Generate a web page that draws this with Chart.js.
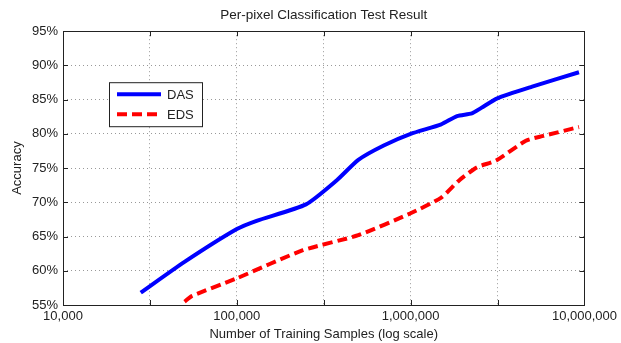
<!DOCTYPE html>
<html>
<head>
<meta charset="utf-8">
<script src="https://cdn.jsdelivr.net/npm/chart.js@4/dist/chart.umd.min.js"></script>
<style>
  html, body { margin: 0; padding: 0; background: #fff; }
  #wrap { width: 621px; height: 343px; }
</style>
</head>
<body>
<div id="wrap"><canvas id="myChart" width="621" height="343"></canvas></div>
<script>
// values
const dasX = [28000, 50000, 100000, 130000, 250000, 375000, 500000, 700000, 1000000, 1500000, 1850000, 2250000, 2550000, 3150000, 5000000, 9300000];
const dasY = [56.8, 61.3, 66.1, 67.3, 69.7, 73.2, 76.2, 78.3, 80.0, 81.4, 82.6, 83.0, 83.8, 85.2, 86.9, 89.0];

const edsX = [50000, 55000, 100000, 240000, 500000, 1000000, 1500000, 1900000, 2400000, 3100000, 4600000, 5800000, 9300000];
const edsY = [55.5, 56.3, 58.9, 63.0, 65.2, 68.4, 70.7, 73.2, 75.1, 76.1, 79.0, 79.7, 81.0];

const xTicks = [1e4, 31623, 1e5, 316228, 1e6, 3162278, 1e7];
const xLabels = ['10,000', '', '100,000', '', '1,000,000', '', '10,000,000'];
const yTicks = [55, 60, 65, 70, 75, 80, 85, 90, 95];

const ctx = document.getElementById("myChart").getContext("2d");
const fontFamily = "'Liberation Sans', Arial, sans-serif";

// box, inward tick marks and in-plot legend like the matlab figure
const matlabFrame = {
    id: 'matlabFrame',
    afterLayout(chart) {
        // title centred over the axes, not the whole canvas
        const t = chart.titleBlock;
        if (t) {
            t.left = chart.chartArea.left;
            t.right = chart.chartArea.right;
        }
    },
    afterDraw(chart) {
        const c = chart.ctx;
        const a = chart.chartArea;
        const xs = chart.scales.x, ys = chart.scales.y;
        c.save();
        c.strokeStyle = '#222';
        c.lineWidth = 1;
        c.beginPath();
        xs.ticks.forEach(t => {
            const px = Math.round(xs.getPixelForValue(t.value)) + 0.5;
            c.moveTo(px, a.bottom); c.lineTo(px, a.bottom - 5);
            c.moveTo(px, a.top); c.lineTo(px, a.top + 5);
        });
        ys.ticks.forEach(t => {
            const py = Math.round(ys.getPixelForValue(t.value)) + 0.5;
            c.moveTo(a.left, py); c.lineTo(a.left + 5, py);
            c.moveTo(a.right, py); c.lineTo(a.right - 5, py);
        });
        c.stroke();
        c.strokeRect(Math.round(a.left) + 0.5, Math.round(a.top) + 0.5,
            Math.round(a.right - a.left), Math.round(a.bottom - a.top));

        // legend
        const lx = a.left + 46, ly = a.top + 51, lw = 93, lh = 44;
        c.fillStyle = '#fff';
        c.fillRect(lx, ly, lw, lh);
        c.strokeStyle = '#222';
        c.strokeRect(lx + 0.5, ly + 0.5, lw, lh);
        chart.data.datasets.forEach((ds, i) => {
            const yy = ly + 12 + i * 20;
            c.strokeStyle = ds.borderColor;
            c.lineWidth = ds.borderWidth;
            c.setLineDash(ds.borderDash || []);
            c.beginPath();
            c.moveTo(lx + 8, yy); c.lineTo(lx + 52, yy);
            c.stroke();
            c.setLineDash([]);
            c.fillStyle = '#222';
            c.font = "13px " + fontFamily;
            c.textBaseline = 'middle';
            c.fillText(ds.label, lx + 58, yy + 1);
        });
        c.restore();
    }
};

const data = {
    datasets: [
        {
            label: 'DAS',
            data: dasX.map((x, i) => ({x: x, y: dasY[i]})),
            borderColor: '#0000ff',
            borderWidth: 4,
            pointRadius: 0,
            tension: 0.2,
            fill: false
        },
        {
            label: 'EDS',
            data: edsX.map((x, i) => ({x: x, y: edsY[i]})),
            borderColor: '#ff0000',
            borderWidth: 4,
            borderDash: [10, 5],
            pointRadius: 0,
            tension: 0.2,
            fill: false
        }
    ]
};

const config = {
    type: 'line',
    data: data,
    plugins: [matlabFrame],
    options: {
        responsive: false,
        animation: false,
        layout: { padding: { left: 0, right: 36, top: 0, bottom: 0 } },
        plugins: {
            legend: { display: false },
            tooltip: { enabled: false },
            title: {
                display: true,
                text: 'Per-pixel Classification Test Result',
                color: '#222',
                font: { family: fontFamily, size: 13.5, weight: 'normal' },
                padding: { top: 7, bottom: 8 }
            }
        },
        scales: {
            x: {
                type: 'logarithmic',
                min: 1e4,
                max: 1e7,
                afterBuildTicks: (scale) => {
                    scale.ticks = xTicks.map(v => ({ value: v }));
                },
                ticks: {
                    autoSkip: false,
                    maxRotation: 0,
                    padding: 4,
                    color: '#222',
                    font: { family: fontFamily, size: 13 },
                    callback: function (value, index) {
                        return xLabels[index];
                    }
                },
                grid: {
                    color: '#999',
                    lineWidth: 1,
                    drawTicks: false
                },
                border: { display: false, dash: [1, 3] },
                title: {
                    display: true,
                    text: 'Number of Training Samples (log scale)',
                    color: '#222',
                    font: { family: fontFamily, size: 13 },
                    padding: { top: 0, bottom: 1 }
                },
                afterFit: (scale) => { scale.height = 38; }
            },
            y: {
                min: 55,
                max: 95,
                afterBuildTicks: (scale) => {
                    scale.ticks = yTicks.map(v => ({ value: v }));
                },
                ticks: {
                    padding: 5,
                    color: '#222',
                    font: { family: fontFamily, size: 13 },
                    callback: function (value) {
                        return value + '%';
                    }
                },
                grid: {
                    color: '#999',
                    lineWidth: 1,
                    drawTicks: false
                },
                border: { display: false, dash: [1, 3] },
                title: {
                    display: true,
                    text: 'Accuracy',
                    color: '#222',
                    font: { family: fontFamily, size: 13 },
                    padding: { top: 10, bottom: 0 }
                },
                afterFit: (scale) => { scale.width = 63; }
            }
        }
    }
};

const myChart = new Chart(ctx, config);
</script>
</body>
</html>
